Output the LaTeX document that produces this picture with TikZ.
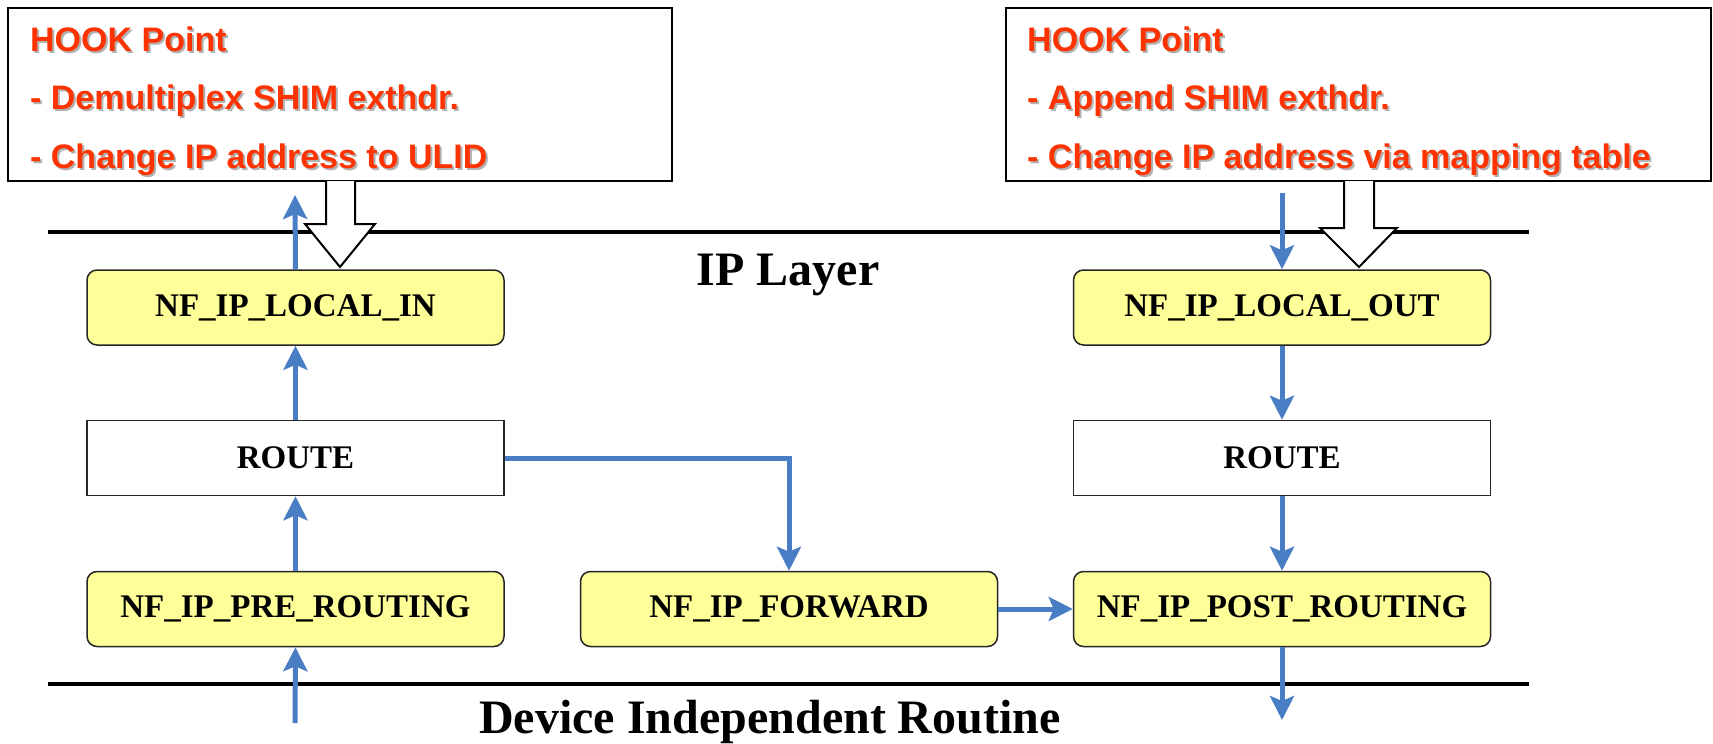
\documentclass[tikz,border=0pt]{standalone}
\usepackage{fontspec}
\setmainfont{Liberation Serif}
\newfontfamily\hookfont{Liberation Sans}
\usetikzlibrary{arrows.meta}
\definecolor{hookred}{RGB}{255,51,0}
\definecolor{flowblue}{RGB}{74,126,196}
\definecolor{hookyellow}{RGB}{255,255,153}

\begin{document}
\begin{tikzpicture}[x=1pt,y=-1pt,
  hookbox/.style={draw=black, line width=2pt, fill=white},
  hooktext/.style={anchor=base west, inner sep=0pt, text=hookred,
    font=\hookfont\bfseries\fontsize{34}{34}\selectfont},
  hookshadow/.style={hooktext, text=black!30},
  hookstage/.style={draw=black!85, line width=1.5pt, fill=hookyellow,
    rounded corners=10pt, minimum width=417pt, minimum height=75pt,
    inner sep=0pt, font=\bfseries\fontsize{33}{33}\selectfont},
  routebox/.style={hookstage, fill=white, sharp corners},
  layerline/.style={draw=black, line width=3.5pt},
  layertext/.style={inner sep=0pt, anchor=base, font=\bfseries\fontsize{48}{48}\selectfont},
  flowarrow/.style={draw=flowblue, line width=5pt,
    -{Stealth[length=24pt,width=24pt,inset=5pt]}},
  blockarrow/.style={draw=black, line width=2pt, fill=white, line join=miter}
]
\useasboundingbox (0,0) rectangle (1713,744);

% layer boundaries
\draw[layerline] (48,232) -- (1529,232);
\draw[layerline] (48,684) -- (1529,684);
\node[layertext] (iplayer) at (788,285) {IP Layer};
\node[layertext] (devlayer) at (770,733) {Device Independent Routine};

% hook call-out boxes
\draw[hookbox] (8,8) rectangle (672,181);
\draw[hookbox] (1006,8) rectangle (1711,181);

\foreach \x/\n in {30/L,1027/R}{
  \node[hookshadow] (hs1\n) at (\x+2,53) {HOOK Point};
}
\node[hookshadow] (hs2L) at (32,111) {- Demultiplex SHIM exthdr.};
\node[hookshadow] (hs3L) at (32,170) {- Change IP address to ULID};
\node[hookshadow] (hs2R) at (1029,111) {- Append SHIM exthdr.};
\node[hookshadow] (hs3R) at (1029,170) {- Change IP address via mapping table};

\node[hooktext] (h1L) at (30,51) {HOOK Point};
\node[hooktext] (h2L) at (30,109) {- Demultiplex SHIM exthdr.};
\node[hooktext] (h3L) at (30,168) {- Change IP address to ULID};
\node[hooktext] (h1R) at (1027,51) {HOOK Point};
\node[hooktext] (h2R) at (1027,109) {- Append SHIM exthdr.};
\node[hooktext] (h3R) at (1027,168) {- Change IP address via mapping table};

% hollow block arrows from the call-outs
\draw[blockarrow] (326,181) -- (326,224) -- (305,224) -- (340,267)
  -- (375,224) -- (355,224) -- (355,181);
\draw[blockarrow] (1344,181) -- (1344,228) -- (1320,228) -- (1359,267)
  -- (1397,228) -- (1374,228) -- (1374,181);

% netfilter stages
\node[hookstage] (localin)  at (295.5,307.5) {NF\_IP\_LOCAL\_IN};
\node[routebox]  (routeL)   at (295.5,458)   {ROUTE};
\node[hookstage] (prert)    at (295.5,609)   {NF\_IP\_PRE\_ROUTING};
\node[hookstage] (forward)  at (789,609)     {NF\_IP\_FORWARD};
\node[hookstage] (localout) at (1282,307.5)  {NF\_IP\_LOCAL\_OUT};
\node[routebox]  (routeR)   at (1282,458)    {ROUTE};
\node[hookstage] (postrt)   at (1282,609)    {NF\_IP\_POST\_ROUTING};

% free ends of the packet path
\coordinate (inL)  at (295,723);
\coordinate (upL)  at (295,195);
\coordinate (inR)  at (1282,193);
\coordinate (outR) at (1282,720);

% packet flow
\draw[flowarrow] (inL) -- (prert.south);
\draw[flowarrow] (prert.north) -- (routeL.south);
\draw[flowarrow] (routeL.north) -- (localin.south);
\draw[flowarrow] (localin.north) -- (upL);
\draw[flowarrow, line join=miter] (routeL.east) -| (forward.north);
\draw[flowarrow] (forward.east) -- (postrt.west);
\draw[flowarrow] (inR) -- (localout.north);
\draw[flowarrow] (localout.south) -- (routeR.north);
\draw[flowarrow] (routeR.south) -- (postrt.north);
\draw[flowarrow] (postrt.south) -- (outR);
\end{tikzpicture}
\end{document}
